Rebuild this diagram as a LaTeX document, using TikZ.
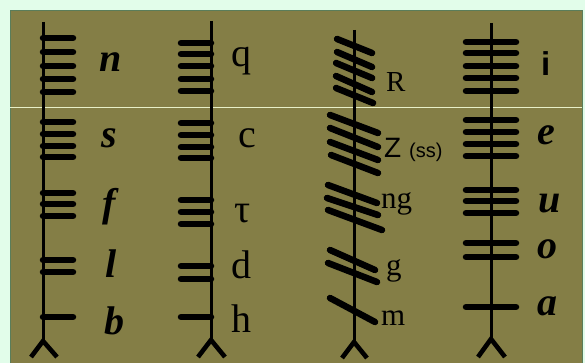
\documentclass[tikz,border=0pt]{standalone}
\usepackage{fontspec}
\setmainfont{Liberation Serif}
\newfontfamily\sansf{Liberation Sans}
\definecolor{mintbg}{RGB}{226,253,234}
\definecolor{ogbg}{RGB}{132,126,70}
\definecolor{edgec}{RGB}{90,125,90}
\definecolor{lightl}{RGB}{232,240,200}
\begin{document}
\begin{tikzpicture}[x=1pt,y=-1pt,
  tick/.style={line width=6.5pt,line cap=round},
  stem/.style={line width=3pt},
  foot/.style={line width=4.6pt,line join=miter,line cap=butt},
  lbl/.style={inner sep=0pt,anchor=base west},
  bi/.style={font=\fontsize{40}{40}\selectfont\bfseries\itshape},
  rg/.style={font=\fontsize{40}{40}\selectfont},
  un/.style={font=\fontsize{31}{31}\selectfont}]
\useasboundingbox (0,0) rectangle (585,363);
\fill[mintbg] (0,0) rectangle (585,363);
\fill[ogbg] (10,11) rectangle (582,363);
\draw[edgec,line width=1pt] (10,363) -- (10,11) -- (582,11) -- (582,363);
\draw[lightl,line width=0.9pt] (10,107) -- (582,107);

% column 1
\draw[stem] (43,22) -- (43,342);
\foreach \y in {38,52,66,79,92,122,134,146,157,193,204,216,260,272,317}
  \draw[tick] (43,\y) -- (73,\y);
\draw[foot] (31,357) -- (43,341) -- (57,357);
\node[lbl,bi] (n) at (99,72) {n};
\node[lbl,bi] (s) at (101,148) {s};
\node[lbl,bi] (f) at (102,216) {f};
\node[lbl,bi] (l) at (105,277) {l};
\node[lbl,bi] (b) at (104,334) {b};

% column 2
\draw[stem] (211,21) -- (211,341);
\foreach \y in {43,54,66,79,91,123,135,147,158,200,212,224,266,279,317}
  \draw[tick] (181,\y) -- (211,\y);
\draw[foot] (198,357) -- (211,340) -- (225,357);
\node[lbl,rg] (q) at (231,67) {q};
\node[lbl,rg] (c) at (238,148) {c};
\node[lbl,rg] (t) at (234,222) {τ};
\node[lbl,rg] (d) at (231,278) {d};
\node[lbl,rg] (h) at (231,332) {h};

% column 3
\draw[stem] (354,30) -- (354,344);
\foreach \xa/\ya/\xb/\yb in {
  337/39/372/53, 337/52/372/67, 336/63/372/78, 336/76/372/92, 336/88/373/103,
  330/115/378/133, 330/128/378/147, 330/142/378/160, 331/155/378/173,
  328/185/377/203, 327/198/378/215, 328/210/382/230,
  330/250/375/270, 328/263/377/282,
  330/298/375/322}
  \draw[tick] (\xa,\ya) -- (\xb,\yb);
\draw[foot] (342,358) -- (354,342) -- (367,358);
\node[lbl,font=\fontsize{29}{29}\selectfont] (R) at (386,92) {R};
\node[lbl,font=\fontsize{28}{28}\selectfont\sansf] (Z) at (384,158) {Z};
\node[lbl,font=\fontsize{20}{20}\selectfont\sansf] (ss) at (409,158) {(ss)};
\node[lbl,un] (ng) at (381,208) {ng};
\node[lbl,un] (g) at (386,275) {g};
\node[lbl,un] (m) at (381,325) {m};

% column 4
\draw[stem] (491,23) -- (491,340);
\foreach \y in {42,53,66,78,91,120,132,144,156,190,201,213,243,257,307}
  \draw[tick] (466,\y) -- (516,\y);
\draw[foot] (478,357) -- (491,339) -- (505,357);
\node[lbl,font=\fontsize{33}{33}\selectfont\sansf\bfseries] (i) at (541,76) {i};
\node[lbl,bi] (e) at (537,145) {e};
\node[lbl,bi] (u) at (538,212) {u};
\node[lbl,bi] (o) at (537,258) {o};
\node[lbl,bi] (a) at (537,315) {a};
\end{tikzpicture}
\end{document}
